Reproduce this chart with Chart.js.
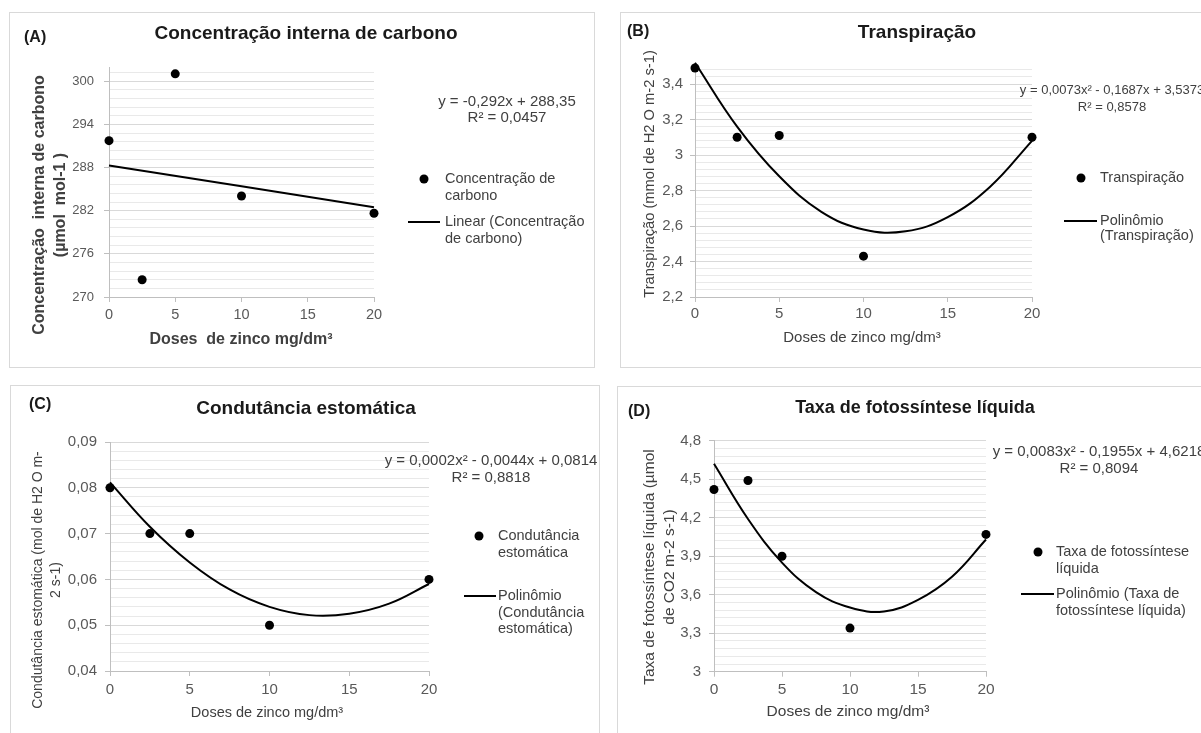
<!DOCTYPE html>
<html><head><meta charset="utf-8">
<script src="https://cdn.jsdelivr.net/npm/chart.js@4"></script>
<style>
html,body{margin:0;padding:0;background:#fff;overflow:hidden;width:1201px;height:733px;position:relative}
.panel{position:absolute;border:1px solid #d9d9d9;box-sizing:border-box}
canvas{position:absolute}
</style></head><body>
<div class="panel" style="left:9px;top:12px;width:586px;height:356px"></div>
<div class="panel" style="left:620px;top:12px;width:600px;height:356px"></div>
<div class="panel" style="left:10px;top:385px;width:590px;height:360px"></div>
<div class="panel" style="left:617px;top:386px;width:600px;height:360px"></div>
<canvas id="cA"></canvas><canvas id="cB"></canvas><canvas id="cC"></canvas><canvas id="cD"></canvas>
<script>
// ---------- DATA ----------
const doses = [0, 2.5, 5, 10, 20];
const fitX = [0, 2.5, 5, 7.5, 10, 12.5, 15, 17.5, 20];
const linX = [0, 20];
const xTicks = [0, 5, 10, 15, 20];

const carbono = [291.75, 272.4, 301.05, 284.05, 281.65];
const carbonoLinear = [288.3, 282.5];
const yTicksA = [270, 276, 282, 288, 294, 300];

const transpiracao = [3.49, 3.10, 3.11, 2.43, 3.10];
const transpiracaoFit = [3.52, 3.16, 2.88, 2.68, 2.58, 2.57, 2.65, 2.82, 3.08];
const yTicksB = [2.2, 2.4, 2.6, 2.8, 3, 3.2, 3.4];

const condutancia = [0.080, 0.070, 0.070, 0.050, 0.060];
const condutanciaFit = [0.0812, 0.0715, 0.0637, 0.0578, 0.0540, 0.0522, 0.0525, 0.0547, 0.0590];
const yTicksC = [0.04, 0.05, 0.06, 0.07, 0.08, 0.09];

const fotossintese = [4.42, 4.49, 3.90, 3.34, 4.07];
const fotossinteseFit = [4.62, 4.19, 3.85, 3.62, 3.50, 3.47, 3.56, 3.74, 4.03];
const yTicksD = [3, 3.3, 3.6, 3.9, 4.2, 4.5, 4.8];

// ---------- TEXT ----------
const textA = {
  tag: '(A)', title: 'Concentração interna de carbono',
  ytitle: ['Concentração  interna de carbono', '(µmol  mol-1 )'],
  xtitle: 'Doses  de zinco mg/dm³',
  eq: ['y = -0,292x + 288,35', 'R² = 0,0457'],
  legPoint: ['Concentração de', 'carbono'],
  legLine: ['Linear (Concentração', 'de carbono)']
};
const textB = {
  tag: '(B)', title: 'Transpiração',
  ytitle: ['Transpiração (mmol de H2 O m-2 s-1)'],
  xtitle: 'Doses de zinco mg/dm³',
  eq: ['y = 0,0073x² - 0,1687x + 3,5373', 'R² = 0,8578'],
  legPoint: ['Transpiração'],
  legLine: ['Polinômio', '(Transpiração)']
};
const textC = {
  tag: '(C)', title: 'Condutância estomática',
  ytitle: ['Condutância estomática (mol de H2 O m-', '2 s-1)'],
  xtitle: 'Doses de zinco mg/dm³',
  eq: ['y = 0,0002x² - 0,0044x + 0,0814', 'R² = 0,8818'],
  legPoint: ['Condutância', 'estomática'],
  legLine: ['Polinômio', '(Condutância', 'estomática)']
};
const textD = {
  tag: '(D)', title: 'Taxa de fotossíntese líquida',
  ytitle: ['Taxa de fotossíntese líquida (µmol', 'de CO2 m-2 s-1)'],
  xtitle: 'Doses de zinco mg/dm³',
  eq: ['y = 0,0083x² - 0,1955x + 4,6218', 'R² = 0,8094'],
  legPoint: ['Taxa de fotossíntese', 'líquida'],
  legLine: ['Polinômio (Taxa de', 'fotossíntese líquida)']
};

// ---------- LAYOUT / STYLE ----------
const SANS = '"Liberation Sans", Arial, sans-serif';
const layouts = {
  A: { box: [9, 12, 586, 356], plot: { l: 109, r: 374, t: 67, b: 297 }, yMin: 270, yMax: 302, minor: 1.2,
       yPad: 10, xPad: 4, yFont: 13, xFont: 14.5,
       tag: [24, 38, 16], title: [306, 34, 19], ytitle: { x: 40, y: 205, lh: 21, font: 'bold 16px ' + SANS },
       xtitle: { x: 241, y: 340, font: 'bold 16px ' + SANS },
       eq: { x: 507, y: 102, lh: 16, font: '15px ' + SANS },
       leg: { mx: 424, my: 179, tx: 445, lh: 16.5, lx1: 408, lx2: 440, ly: 222, font: '14.5px ' + SANS } },
  B: { box: [620, 12, 581, 356], plot: { l: 695, r: 1032, t: 66.25, b: 297 }, yMin: 2.2, yMax: 3.5, minor: 0.04,
       yPad: 7, xPad: 3, yFont: 15, xFont: 15,
       tag: [627, 32, 16], title: [917, 33, 19], ytitle: { x: 650, y: 174, lh: 18, font: '14.7px ' + SANS },
       xtitle: { x: 862, y: 338, font: '15px ' + SANS },
       eq: { x: 1112, y: 90, lh: 17, font: '13px ' + SANS },
       leg: { mx: 1081, my: 178, tx: 1100, lh: 15, lx1: 1064, lx2: 1097, ly: 221, font: '14.5px ' + SANS } },
  C: { box: [10, 385, 590, 348], plot: { l: 110, r: 429, t: 442, b: 671 }, yMin: 0.04, yMax: 0.09, minor: 0.002,
       yPad: 8, xPad: 5, yFont: 15, xFont: 15,
       tag: [29, 405, 16], title: [306, 409, 19], ytitle: { x: 38, y: 580, lh: 18, font: '14px ' + SANS },
       xtitle: { x: 267, y: 713, font: '14.5px ' + SANS },
       eq: { x: 491, y: 461, lh: 17, font: '15px ' + SANS },
       leg: { mx: 479, my: 536, tx: 498, lh: 16.5, lx1: 464, lx2: 496, ly: 596, font: '14.5px ' + SANS } },
  D: { box: [617, 386, 584, 347], plot: { l: 714, r: 986, t: 440.7, b: 671.7 }, yMin: 3, yMax: 4.8, minor: 0.06,
       yPad: 8, xPad: 4, yFont: 15, xFont: 15.5,
       tag: [628, 412, 16], title: [915, 408, 18], ytitle: { x: 650, y: 567, lh: 20, font: '15.5px ' + SANS },
       xtitle: { x: 848, y: 712, font: '15.5px ' + SANS },
       eq: { x: 1099, y: 452, lh: 17, font: '15px ' + SANS },
       leg: { mx: 1038, my: 552, tx: 1056, lh: 16.5, lx1: 1021, lx2: 1054, ly: 594, font: '14.5px ' + SANS } }
};

const TXT = '#404040', TICK = '#595959', AXIS = '#bfbfbf', GRID = '#d9d9d9', MINOR = '#e9e9e9';

function fmt(v) { return String(+v.toFixed(4)).replace('.', ','); }

const panelText = {
  id: 'panelText',
  afterDraw(chart, args, o) {
    const ctx = chart.ctx, L = o.layout, T = o.text;
    const ox = L.box[0], oy = L.box[1];
    ctx.save();
    ctx.textBaseline = 'middle';
    ctx.fillStyle = '#1a1a1a';
    ctx.font = 'bold ' + L.tag[2] + 'px ' + SANS; ctx.textAlign = 'left';
    ctx.fillText(T.tag, L.tag[0] - ox, L.tag[1] - oy);
    ctx.font = 'bold ' + L.title[2] + 'px ' + SANS; ctx.textAlign = 'center';
    ctx.fillText(T.title, L.title[0] - ox, L.title[1] - oy);
    ctx.fillStyle = TXT;
    ctx.save();
    ctx.font = L.ytitle.font; ctx.textAlign = 'center';
    ctx.translate(L.ytitle.x - ox, L.ytitle.y - oy); ctx.rotate(-Math.PI / 2);
    T.ytitle.forEach((ln, i) => ctx.fillText(ln, 0, i * L.ytitle.lh));
    ctx.restore();
    ctx.font = L.xtitle.font; ctx.textAlign = 'center';
    ctx.fillText(T.xtitle, L.xtitle.x - ox, L.xtitle.y - oy);
    ctx.font = L.eq.font;
    T.eq.forEach((ln, i) => ctx.fillText(ln, L.eq.x - ox, L.eq.y - oy + i * L.eq.lh));
    const g = L.leg;
    ctx.font = g.font; ctx.textAlign = 'left';
    ctx.fillStyle = '#000';
    ctx.beginPath(); ctx.arc(g.mx - ox, g.my - oy, 4.5, 0, Math.PI * 2); ctx.fill();
    ctx.fillStyle = TXT;
    T.legPoint.forEach((ln, i) => ctx.fillText(ln, g.tx - ox, g.my - oy + i * g.lh));
    ctx.strokeStyle = '#000'; ctx.lineWidth = 2;
    ctx.beginPath(); ctx.moveTo(g.lx1 - ox, g.ly - oy); ctx.lineTo(g.lx2 - ox, g.ly - oy); ctx.stroke();
    T.legLine.forEach((ln, i) => ctx.fillText(ln, g.tx - ox, g.ly - oy + i * g.lh));
    ctx.restore();
  }
};

function makePanel(id, L, T, pointsY, lineX, lineY, yMajor, pointLabel, lineLabel) {
  const cv = document.getElementById(id);
  const [bx, by, bw, bh] = L.box;
  cv.width = bw; cv.height = bh;
  cv.style.left = bx + 'px'; cv.style.top = by + 'px';
  cv.style.width = bw + 'px'; cv.style.height = bh + 'px';
  const cl = L.plot.l - bx, cr = L.plot.r - bx, ct = L.plot.t - by, cb = L.plot.b - by;
  const isMajor = v => yMajor.some(m => Math.abs(m - v) < 1e-9);
  new Chart(cv, {
    type: 'scatter',
    data: {
      datasets: [
        { label: pointLabel, data: doses.map((x, i) => ({ x, y: pointsY[i] })), clip: false,
          showLine: false, pointRadius: 4.5, pointBackgroundColor: '#000', pointBorderWidth: 0 },
        { label: lineLabel, type: 'line', data: lineX.map((x, i) => ({ x, y: lineY[i] })), clip: false,
          showLine: true, pointRadius: 0, borderColor: '#000', borderWidth: 2, tension: 0.4, fill: false }
      ]
    },
    options: {
      responsive: false, animation: false, devicePixelRatio: 1, events: [],
      layout: { padding: { left: 0, top: ct, right: bw - cr, bottom: 0 } },
      plugins: { legend: { display: false }, tooltip: { enabled: false }, title: { display: false },
                 panelText: { layout: L, text: T } },
      scales: {
        x: {
          type: 'linear', min: 0, max: 20,
          afterBuildTicks: s => { s.ticks = xTicks.map(v => ({ value: v })); },
          afterFit: s => { s.height = bh - cb; },
          ticks: { autoSkip: false, maxRotation: 0, padding: L.xPad, color: TICK,
                   font: { family: SANS, size: L.xFont }, callback: v => fmt(v) },
          grid: { drawOnChartArea: false, tickLength: 5, color: AXIS, lineWidth: 1 },
          border: { color: AXIS, width: 1 }
        },
        y: {
          type: 'linear', min: L.yMin, max: L.yMax,
          afterBuildTicks: s => {
            const n = Math.floor((L.yMax - L.yMin) / L.minor + 1e-6);
            const arr = [];
            for (let i = 0; i <= n; i++) {
              const v = +(L.yMin + i * L.minor).toFixed(6);
              arr.push({ value: v, major: isMajor(v) });
            }
            s.ticks = arr;
          },
          afterFit: s => { s.width = cl; },
          ticks: { autoSkip: false, padding: L.yPad, color: TICK, font: { family: SANS, size: L.yFont },
                   callback: v => isMajor(v) ? fmt(v) : '' },
          grid: {
            color: c => (c.tick && isMajor(c.tick.value)) ? GRID : MINOR,
            tickColor: c => (c.tick && isMajor(c.tick.value)) ? AXIS : 'rgba(0,0,0,0)',
            tickLength: 5, lineWidth: 1
          },
          border: { color: AXIS, width: 1 }
        }
      }
    },
    plugins: [panelText]
  });
}

makePanel('cA', layouts.A, textA, carbono, linX, carbonoLinear, yTicksA, 'Concentração de carbono', 'Linear (Concentração de carbono)');
makePanel('cB', layouts.B, textB, transpiracao, fitX, transpiracaoFit, yTicksB, 'Transpiração', 'Polinômio (Transpiração)');
makePanel('cC', layouts.C, textC, condutancia, fitX, condutanciaFit, yTicksC, 'Condutância estomática', 'Polinômio (Condutância estomática)');
makePanel('cD', layouts.D, textD, fotossintese, fitX, fotossinteseFit, yTicksD, 'Taxa de fotossíntese líquida', 'Polinômio (Taxa de fotossíntese líquida)');
</script>
</body></html>
